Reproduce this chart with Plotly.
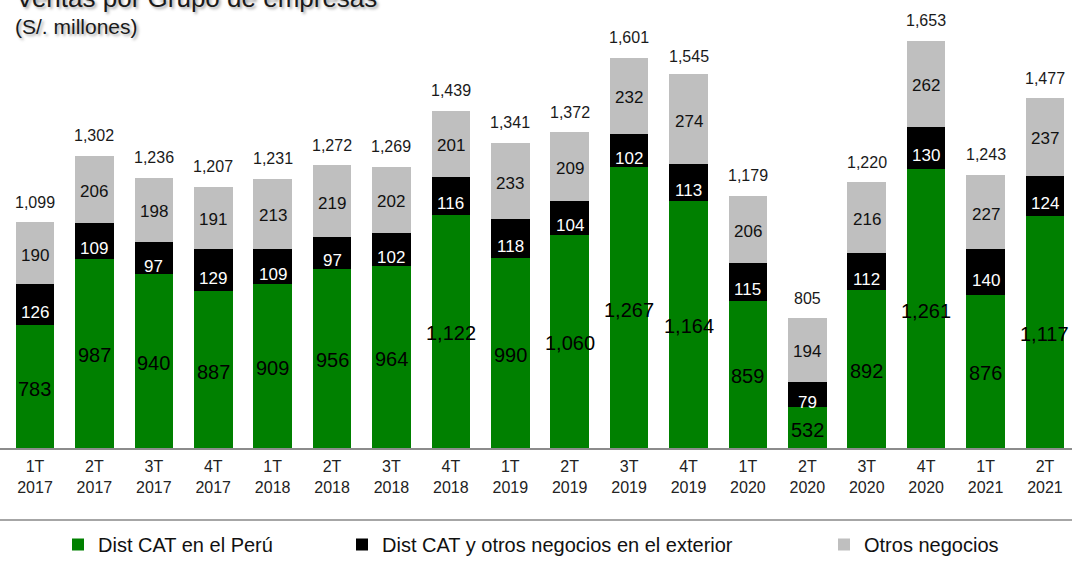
import plotly.graph_objects as go

# ---------------- data ----------------
quarters = ["1T", "2T", "3T", "4T", "1T", "2T", "3T", "4T", "1T", "2T",
            "3T", "4T", "1T", "2T", "3T", "4T", "1T", "2T"]
years = ["2017", "2017", "2017", "2017", "2018", "2018", "2018", "2018", "2019",
         "2019", "2019", "2019", "2020", "2020", "2020", "2020", "2021", "2021"]
dist_cat_peru = [783, 987, 940, 887, 909, 956, 964, 1122, 990, 1060,
                 1267, 1164, 859, 532, 892, 1261, 876, 1117]
dist_cat_exterior = [126, 109, 97, 129, 109, 97, 102, 116, 118, 104,
                     102, 113, 115, 79, 112, 130, 140, 124]
otros_negocios = [190, 206, 198, 191, 213, 219, 202, 201, 233, 209,
                  232, 274, 206, 194, 216, 262, 227, 237]
totales = [1099, 1302, 1236, 1207, 1231, 1272, 1269, 1439, 1341, 1372,
           1601, 1545, 1179, 805, 1220, 1653, 1243, 1477]

series_names = ["Dist CAT en el Perú",
                "Dist CAT y otros negocios en el exterior",
                "Otros negocios"]

categories = [f"{q}<br>{y}" for q, y in zip(quarters, years)]

# ---------------- style ----------------
FONT = "Liberation Sans, Arial, sans-serif"
GREEN = "#008000"
BLACK = "#000000"
GRAY = "#BFBFBF"
Y_MIN, Y_MAX = 408, 1778
W, H = 1072, 564
M_T, M_B = 0, 116
PLOT_H = H - M_T - M_B

fig = go.Figure()
fig.add_trace(go.Bar(x=categories, y=dist_cat_peru, name=series_names[0],
                     marker=dict(color=GREEN, line=dict(width=0)),
                     legend="legend", hoverinfo="skip"))
fig.add_trace(go.Bar(x=categories, y=dist_cat_exterior, name=series_names[1],
                     marker=dict(color=BLACK, line=dict(width=0)),
                     legend="legend2", hoverinfo="skip"))
fig.add_trace(go.Bar(x=categories, y=otros_negocios, name=series_names[2],
                     marker=dict(color=GRAY, line=dict(width=0)),
                     legend="legend3", hoverinfo="skip"))

annotations = []
for cat, g, b, o, t in zip(categories, dist_cat_peru, dist_cat_exterior,
                           otros_negocios, totales):
    # green segment label (centered on the visible part)
    annotations.append(dict(x=cat, y=(max(Y_MIN, 0) + g) / 2, text=f"{g:,}",
                            showarrow=False, yanchor="middle", yshift=-2,
                            font=dict(family=FONT, size=20, color="#000000")))
    # black segment label
    annotations.append(dict(x=cat, y=g + b / 2, text=f"{b:,}",
                            showarrow=False, yanchor="middle", yshift=-8,
                            font=dict(family=FONT, size=17, color="#FFFFFF")))
    # gray segment label
    annotations.append(dict(x=cat, y=g + b + o / 2, text=f"{o:,}",
                            showarrow=False, yanchor="middle", yshift=-2,
                            font=dict(family=FONT, size=17, color="#111111")))
    # total
    annotations.append(dict(x=cat, y=t, text=f"{t:,}",
                            showarrow=False, yanchor="middle", yshift=20,
                            font=dict(family=FONT, size=16, color="#1a1a1a")))

# title & subtitle
annotations.append(dict(xref="paper", yref="paper", x=14 / W, y=1 + 2 / PLOT_H,
                        xanchor="left", yanchor="middle", showarrow=False,
                        text="Ventas por Grupo de empresas",
                        font=dict(family=FONT, size=26, color="#1a1a1a",
                                  shadow="2px 2px 3px rgba(0,0,0,0.35)")))
annotations.append(dict(xref="paper", yref="paper", x=13 / W, y=1 - 27 / PLOT_H,
                        xanchor="left", yanchor="middle", showarrow=False,
                        text="(S/. millones)",
                        font=dict(family=FONT, size=21, color="#1a1a1a",
                                  shadow="2px 2px 3px rgba(0,0,0,0.35)")))

legend_common = dict(orientation="h", yanchor="middle", xanchor="left",
                     y=(PLOT_H - 545) / PLOT_H, bgcolor="rgba(0,0,0,0)",
                     font=dict(family=FONT, size=20, color="#111111"))

fig.update_layout(
    barmode="stack",
    bargap=0.35,
    width=W, height=H,
    margin=dict(l=0, r=0, t=M_T, b=M_B, pad=0),
    paper_bgcolor="white", plot_bgcolor="white",
    font=dict(family=FONT),
    showlegend=True,
    legend=dict(x=(78 - 20) / W, **legend_common),
    legend2=dict(x=(362 - 20) / W, **legend_common),
    legend3=dict(x=(844 - 20) / W, **legend_common),
    annotations=annotations,
    shapes=[dict(type="line", xref="paper", yref="paper", x0=0, x1=1,
                 y0=(PLOT_H - 520) / PLOT_H, y1=(PLOT_H - 520) / PLOT_H,
                 line=dict(color="#A6A6A6", width=2))],
    xaxis=dict(type="category", range=[-0.589, 17.455], showline=True,
               linecolor="#8C8C8C", linewidth=1.5, ticks="", showgrid=False,
               tickfont=dict(family=FONT, size=16, color="#222222"),
               ticklabelstandoff=3, fixedrange=True),
    yaxis=dict(range=[Y_MIN, Y_MAX], visible=False, showgrid=False,
               zeroline=False, fixedrange=True),
)

fig.write_html(
    "out.html",
    config={"displayModeBar": False},
    post_script="document.body.style.margin='0';document.body.style.overflow='hidden';",
)
